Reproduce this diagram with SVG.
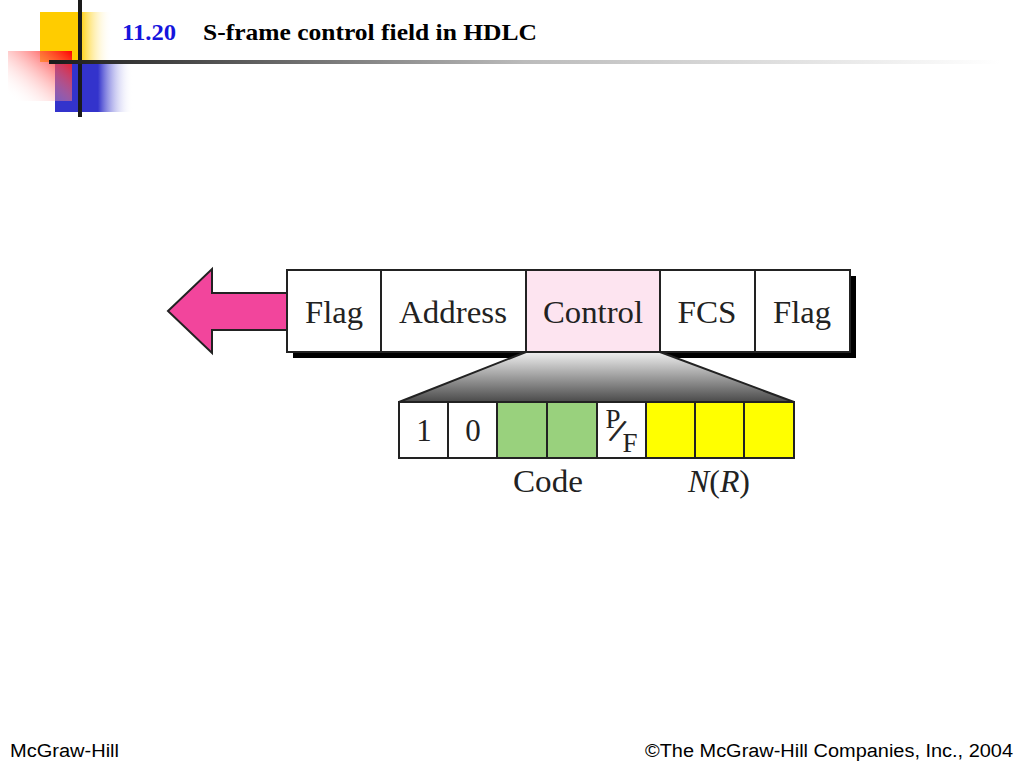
<svg xmlns="http://www.w3.org/2000/svg" width="1024" height="768" viewBox="0 0 1024 768">
<defs>
<linearGradient id="gY" x1="0" y1="0" x2="1" y2="0"><stop offset="0" stop-color="#ffcc00"/><stop offset="0.55" stop-color="#ffcc00"/><stop offset="1" stop-color="#ffffff" stop-opacity="0"/></linearGradient>
<linearGradient id="gB" x1="0" y1="0" x2="1" y2="0"><stop offset="0" stop-color="#3333cc"/><stop offset="0.55" stop-color="#3333cc"/><stop offset="1" stop-color="#ffffff" stop-opacity="0"/></linearGradient>
<linearGradient id="gR" x1="1" y1="0" x2="0" y2="0.9"><stop offset="0" stop-color="#ff0000"/><stop offset="1" stop-color="#ffffff" stop-opacity="0"/></linearGradient>
<linearGradient id="gL" x1="0" y1="0" x2="1" y2="0"><stop offset="0" stop-color="#1a1a1a"/><stop offset="0.5" stop-color="#bbbbbb"/><stop offset="1" stop-color="#ffffff"/></linearGradient>
<linearGradient id="gT" x1="0" y1="0" x2="0" y2="1"><stop offset="0" stop-color="#f0f0f0"/><stop offset="1" stop-color="#4a4a4a"/></linearGradient>
<style>
.fr{font-family:"Liberation Serif","Times New Roman",serif;font-size:31px;fill:#222;text-anchor:middle}
.bx{stroke:#222;stroke-width:2}
.ft{font-family:"Liberation Sans",Arial,sans-serif;font-size:18px;fill:#000}
</style>
</defs>
<rect width="1024" height="768" fill="#fff"/>
<g id="decoration">
<rect x="40" y="12" width="72" height="50" fill="url(#gY)"/>
<rect x="55" y="62" width="78" height="50" fill="url(#gB)"/>
<rect x="8" y="51" width="64" height="50" fill="url(#gR)"/>
<rect x="78" y="0" width="4" height="117" fill="#1a1a1a"/>
<rect x="49" y="60" width="951" height="4" fill="url(#gL)"/>
</g>
<g id="title" font-family="'Liberation Serif','Times New Roman',serif" font-weight="bold" font-size="24">
<text x="122" y="40" fill="#1515dd" textLength="54" lengthAdjust="spacingAndGlyphs">11.20</text>
<text x="203" y="40" fill="#000" textLength="334" lengthAdjust="spacingAndGlyphs">S-frame control field in HDLC</text>
</g>
<g id="arrow">
<polygon points="168,311 212,269 212,293 287,293 287,330 212,330 212,353" fill="#f2459c" stroke="#222" stroke-width="2" stroke-linejoin="miter"/>
</g>
<g id="frame">
<rect x="293" y="276" width="563" height="82" fill="#000"/>
<rect class="bx" x="287" y="270" width="94" height="82" fill="#fff"/>
<rect class="bx" x="381" y="270" width="145" height="82" fill="#fff"/>
<rect class="bx" x="526" y="270" width="134" height="82" fill="#fde4f0"/>
<rect class="bx" x="660" y="270" width="95" height="82" fill="#fff"/>
<rect class="bx" x="755" y="270" width="95" height="82" fill="#fff"/>
<text class="fr" x="334" y="323" textLength="58" lengthAdjust="spacingAndGlyphs">Flag</text>
<text class="fr" x="453" y="323" textLength="108" lengthAdjust="spacingAndGlyphs">Address</text>
<text class="fr" x="593" y="323" textLength="100" lengthAdjust="spacingAndGlyphs">Control</text>
<text class="fr" x="707" y="323" textLength="59" lengthAdjust="spacingAndGlyphs">FCS</text>
<text class="fr" x="802" y="323" textLength="58" lengthAdjust="spacingAndGlyphs">Flag</text>
</g>
<g id="expansion">
<polygon points="526,352 660,352 794,402 399,402" fill="url(#gT)" stroke="#222" stroke-width="2" stroke-linejoin="round"/>
</g>
<g id="control-bits">
<rect class="bx" x="399" y="402" width="49" height="56" fill="#fff"/>
<rect class="bx" x="448" y="402" width="49" height="56" fill="#fff"/>
<rect class="bx" x="497" y="402" width="50" height="56" fill="#99d17d"/>
<rect class="bx" x="547" y="402" width="50" height="56" fill="#99d17d"/>
<rect class="bx" x="597" y="402" width="49" height="56" fill="#fff"/>
<rect class="bx" x="646" y="402" width="49" height="56" fill="#ffff00"/>
<rect class="bx" x="695" y="402" width="49" height="56" fill="#ffff00"/>
<rect class="bx" x="744" y="402" width="50" height="56" fill="#ffff00"/>
<text class="fr" x="424" y="441">1</text>
<text class="fr" x="473" y="441">0</text>
<text class="fr" x="613" y="428" style="font-size:27px">P</text>
<text class="fr" x="618" y="442" style="font-size:34px;stroke:#222;stroke-width:0.8" transform="rotate(20 618 430)">/</text>
<text class="fr" x="630" y="452" style="font-size:27px">F</text>
<text class="fr" x="548" y="492" textLength="70" lengthAdjust="spacingAndGlyphs">Code</text>
<text class="fr" x="719" y="492" textLength="62" lengthAdjust="spacingAndGlyphs"><tspan font-style="italic">N</tspan>(<tspan font-style="italic">R</tspan>)</text>
</g>
<g id="footer">
<text class="ft" x="10" y="757" textLength="109" lengthAdjust="spacingAndGlyphs">McGraw-Hill</text>
<text class="ft" x="645" y="757" textLength="368" lengthAdjust="spacingAndGlyphs">©The McGraw-Hill Companies, Inc., 2004</text>
</g>
</svg>
